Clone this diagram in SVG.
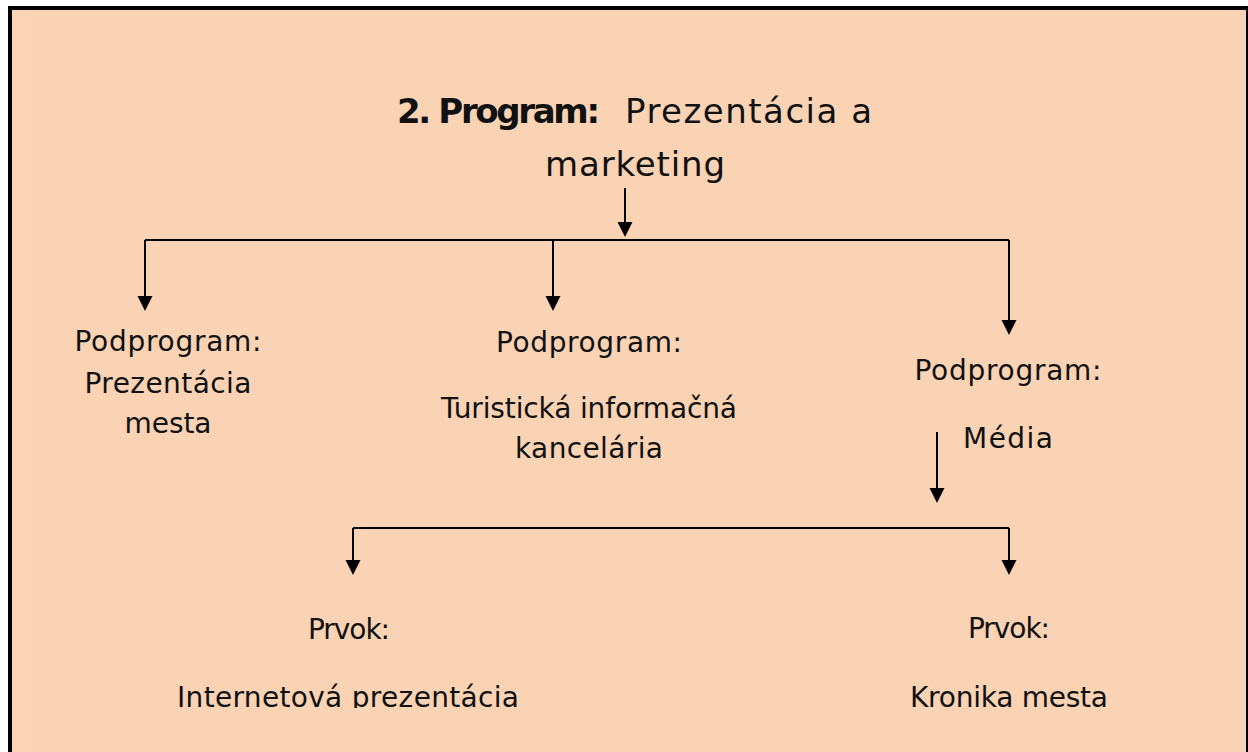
<svg xmlns="http://www.w3.org/2000/svg" width="1248" height="752" viewBox="0 0 1248 752">
<style>
.t{font-family:"DejaVu Sans","Liberation Sans",sans-serif;font-size:28px;fill:#111;text-anchor:middle}
.h{font-family:"DejaVu Sans","Liberation Sans",sans-serif;font-size:34px;fill:#111}
.c{fill:none;stroke:#000;stroke-width:2}
</style>
<defs>
<marker id="ah" markerUnits="userSpaceOnUse" markerWidth="16" markerHeight="16" refX="13" refY="7.5" orient="auto">
<path d="M0,0 L15,7.5 L0,15 Z" fill="#000"/>
</marker>
<clipPath id="clipBottom"><rect x="0" y="0" width="1248" height="708"/></clipPath>
</defs>
<rect x="0" y="0" width="1248" height="752" fill="#fff"/>
<rect x="12" y="9" width="1235" height="743" fill="#FAD3B4"/>
<line x1="24" y1="9" x2="24" y2="752" stroke="#FCDDC4" stroke-width="1"/>
<rect x="8" y="6" width="1240" height="4" fill="#000"/>
<rect x="8" y="6" width="4" height="746" fill="#000"/>
<rect x="1246" y="6" width="2" height="746" fill="#000"/>

<g id="connectors">
<path class="c" d="M625,188 V235" marker-end="url(#ah)"/>
<path class="c" d="M145,240 H1009"/>
<path class="c" d="M145,240 V309" marker-end="url(#ah)"/>
<path class="c" d="M553,240 V309" marker-end="url(#ah)"/>
<path class="c" d="M1009,240 V333" marker-end="url(#ah)"/>
<path class="c" d="M937,432 V501" marker-end="url(#ah)"/>
<path class="c" d="M353,528 H1009"/>
<path class="c" d="M353,528 V573" marker-end="url(#ah)"/>
<path class="c" d="M1009,528 V573" marker-end="url(#ah)"/>
</g>

<g id="program">
<text class="h" x="397" y="123" font-weight="bold" textLength="203">2. Program:</text>
<text class="h" x="625" y="123" textLength="247">Prezentácia a</text>
<text class="h" x="635" y="176" text-anchor="middle" textLength="180">marketing</text>
</g>

<g id="podprogram-prezentacia">
<text class="t" x="168" y="351" textLength="187">Podprogram:</text>
<text class="t" x="168" y="393" textLength="167">Prezentácia</text>
<text class="t" x="168" y="433" textLength="87">mesta</text>
</g>

<g id="podprogram-tik">
<text class="t" x="589" y="352" textLength="186">Podprogram:</text>
<text class="t" x="589" y="418" textLength="296">Turistická informačná</text>
<text class="t" x="589" y="458" textLength="148">kancelária</text>
</g>

<g id="podprogram-media">
<text class="t" x="1008" y="380" textLength="187">Podprogram:</text>
<text class="t" x="1008" y="448" textLength="90">Média</text>
</g>

<g id="prvok-internet" clip-path="url(#clipBottom)">
<text class="t" x="349" y="639" textLength="82">Prvok:</text>
<text class="t" x="348" y="707" textLength="342">Internetová prezentácia</text>
</g>

<g id="prvok-kronika" clip-path="url(#clipBottom)">
<text class="t" x="1009" y="638" textLength="82">Prvok:</text>
<text class="t" x="1009" y="707" textLength="198">Kronika mesta</text>
</g>
</svg>
